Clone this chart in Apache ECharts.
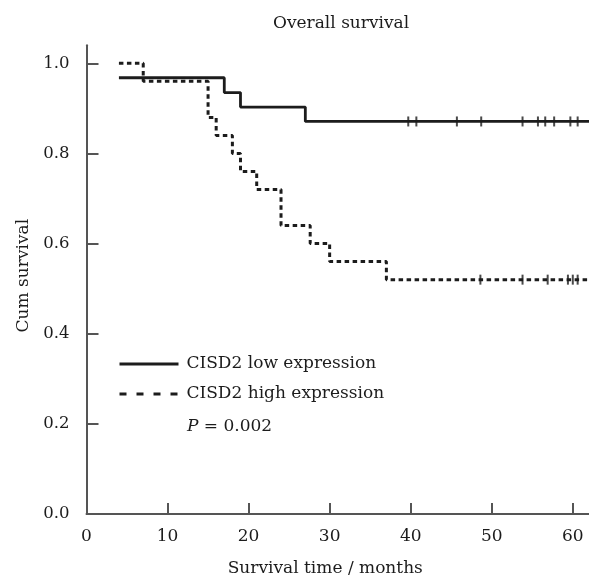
<!DOCTYPE html>
<html>
<head>
<meta charset="utf-8">
<script src="https://cdn.jsdelivr.net/npm/echarts@6/dist/echarts.min.js"></script>
<style>
html, body { margin: 0; padding: 0; background: #fff; }
#chart { width: 589px; height: 582px; }
</style>
</head>
<body>
<div id="chart"></div>
<script>
// Kaplan-Meier steps: [time in months, cum survival after the event]
var lowSteps = [[4, 0.968], [17, 0.935], [19, 0.903], [27, 0.871], [62, 0.871]];
var highSteps = [[4, 1.0], [7, 0.96], [15, 0.88], [16, 0.84], [18, 0.80], [19, 0.76], [21, 0.72],
                 [24, 0.64], [27.6, 0.60], [30, 0.56], [37, 0.52], [62, 0.52]];
// censored times (the little vertical ticks) and the level they sit on
var lowCensor = [39.7, 40.7, 45.7, 48.7, 53.8, 55.7, 56.6, 57.7, 59.7, 60.6];
var lowLevel = 0.871;
var highCensor = [48.6, 53.8, 56.9, 59.4, 60.0, 60.6];
var highLevel = 0.52;

var xTicks = [0, 10, 20, 30, 40, 50, 60];
var yTicks = [0, 0.2, 0.4, 0.6, 0.8, 1.0];

var seriesNames = ['CISD2 low expression', 'CISD2 high expression'];
var pValue = '0.002';

var FONT = 'DejaVu Serif';
var INK = '#1c1c1c';
var AXIS = '#555';

var myChart = echarts.init(document.getElementById('chart'));

var option = {
    animation: false,
    title: {
        text: 'Overall survival',
        left: 273,
        top: 15,
        padding: 0,
        textStyle: { fontFamily: FONT, fontSize: 17, fontWeight: 'normal', color: INK }
    },
    grid: { left: 86.5, right: 0, top: 45.3, bottom: 67.7 },
    xAxis: {
        type: 'value',
        min: 0,
        max: 62,
        name: 'Survival time / months',
        nameLocation: 'middle',
        nameGap: 46,
        nameTextStyle: { fontFamily: FONT, fontSize: 17, color: INK, padding: [0, 25, 0, 0] },
        axisLine: { show: true, onZero: false, lineStyle: { color: AXIS, width: 2 } },
        axisTick: { show: true, inside: false, length: -11, customValues: xTicks, lineStyle: { color: AXIS, width: 2 } },
        axisLabel: {
            inside: false, fontFamily: FONT, fontSize: 17, color: INK, margin: 14,
            customValues: xTicks
        },
        splitLine: { show: false }
    },
    yAxis: {
        type: 'value',
        min: 0,
        max: 1.04,
        name: 'Cum survival',
        nameLocation: 'middle',
        nameRotate: 90,
        nameGap: 54,
        nameTextStyle: { fontFamily: FONT, fontSize: 17, color: INK, padding: [0, 0, 0, 8] },
        axisLine: { show: true, lineStyle: { color: AXIS, width: 2 } },
        axisTick: { show: true, inside: false, length: -12, customValues: yTicks, lineStyle: { color: AXIS, width: 2 } },
        axisLabel: {
            inside: false, fontFamily: FONT, fontSize: 16.5, color: INK, margin: 17,
            customValues: yTicks,
            formatter: function (v) { return v.toFixed(1); }
        },
        splitLine: { show: false }
    },
    legend: {
        orient: 'vertical',
        left: 118,
        top: 354,
        padding: 0,
        itemWidth: 59,
        itemHeight: 20,
        itemGap: 10,
        textStyle: { fontFamily: FONT, fontSize: 17, color: INK, lineHeight: 20, padding: [0, 0, 0, 3] },
        data: [
            { name: seriesNames[0], itemStyle: { opacity: 0 }, lineStyle: { type: 'solid', width: 3 } },
            { name: seriesNames[1], itemStyle: { opacity: 0 }, lineStyle: { type: [7, 10], width: 3 } }
        ]
    },
    graphic: [{
        type: 'text',
        left: 187,
        top: 418,
        style: {
            text: '{i|P} = ' + pValue,
            fontFamily: FONT,
            fontSize: 17,
            fill: INK,
            rich: { i: { fontFamily: FONT, fontSize: 17, fontStyle: 'italic', fill: INK } }
        }
    }],
    series: [
        {
            name: seriesNames[0],
            type: 'line',
            step: 'end',
            symbol: 'none',
            data: lowSteps,
            lineStyle: { color: INK, width: 2.8, type: 'solid' },
            itemStyle: { color: INK },
            z: 3
        },
        {
            name: seriesNames[1],
            type: 'line',
            step: 'end',
            symbol: 'none',
            data: highSteps,
            lineStyle: { color: INK, width: 3, type: [4.5, 3.5] },
            itemStyle: { color: INK },
            z: 3
        },
        {
            name: 'low censored',
            type: 'scatter',
            symbol: 'rect',
            symbolSize: [2, 10],
            itemStyle: { color: INK },
            data: lowCensor.map(function (t) { return [t, lowLevel]; }),
            z: 4
        },
        {
            name: 'high censored',
            type: 'scatter',
            symbol: 'rect',
            symbolSize: [2, 10],
            itemStyle: { color: INK },
            data: highCensor.map(function (t) { return [t, highLevel]; }),
            z: 4
        }
    ]
};

myChart.setOption(option);
</script>
</body>
</html>
